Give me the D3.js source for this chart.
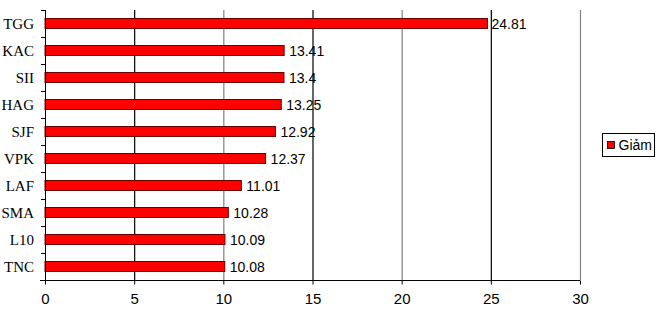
<!DOCTYPE html>
<html>
<head>
<meta charset="utf-8">
<script src="https://cdn.jsdelivr.net/npm/d3@7"></script>
<style>
  body { margin: 0; background: #fff; }
  svg { display: block; }
</style>
</head>
<body>
<svg id="chart" width="660" height="313"></svg>
<script>
const categories = ["TGG", "KAC", "SII", "HAG", "SJF", "VPK", "LAF", "SMA", "L10", "TNC"];
const values = [24.81, 13.41, 13.4, 13.25, 12.92, 12.37, 11.01, 10.28, 10.09, 10.08];
const xTicks = [0, 5, 10, 15, 20, 25, 30];
const seriesName = "Giảm";

const svg = d3.select("#chart");
const margin = { top: 10, right: 80, bottom: 33, left: 45 };
const width = 660, height = 313;

const x = d3.scaleLinear().domain([0, 30]).range([margin.left, width - margin.right]);
const y = d3.scaleBand().domain(categories)
    .range([margin.top, height - margin.bottom])
    .paddingInner(0.63).paddingOuter(0.315);

// vertical gridlines - alternate dark / gray like the original
svg.append("g").selectAll("line")
    .data(xTicks.filter(d => d > 0))
    .join("line")
    .attr("x1", d => x(d) + 0.5).attr("x2", d => x(d) + 0.5)
    .attr("y1", margin.top).attr("y2", height - margin.bottom)
    .attr("stroke", (d, i) => i % 2 === 0 ? "#000" : "#808080")
    .attr("stroke-width", 1.2);

// bars
svg.append("g").selectAll("rect")
    .data(values)
    .join("rect")
    .attr("x", x(0))
    .attr("y", (d, i) => y(categories[i]))
    .attr("width", d => x(d) - x(0))
    .attr("height", y.bandwidth())
    .attr("fill", "#ff0000")
    .attr("stroke", "#6b0000")
    .attr("stroke-width", 1);

// value labels
svg.append("g").selectAll("text")
    .data(values)
    .join("text")
    .attr("x", d => x(d) + (d > 20 ? 4 : 5))
    .attr("y", (d, i) => y(categories[i]) + y.bandwidth() / 2)
    .attr("dy", "0.36em")
    .attr("font-family", "'Liberation Sans', Arial, sans-serif")
    .attr("font-size", 14)
    .attr("fill", "#000")
    .text(d => d);

// x axis
const xAxis = svg.append("g")
    .attr("transform", `translate(0,${height - margin.bottom + 0.5})`)
    .call(d3.axisBottom(x).tickValues(xTicks).tickSize(4).tickPadding(9));
xAxis.select(".domain").attr("d", `M${margin.left - 5},0H${x(30)}`).attr("stroke", "#000");
xAxis.selectAll("text")
    .attr("font-family", "'Liberation Sans', Arial, sans-serif")
    .attr("font-size", 15)
    .attr("fill", "#000");

// y axis: ticks between categories
const bounds = d3.range(categories.length + 1).map(i => margin.top + i * y.step());
const yAxis = svg.append("g");
yAxis.append("line")
    .attr("x1", margin.left + 0.5).attr("x2", margin.left + 0.5)
    .attr("y1", margin.top).attr("y2", height - margin.bottom + 4)
    .attr("stroke", "#000");
yAxis.selectAll(".bt")
    .data(bounds)
    .join("line")
    .attr("class", "bt")
    .attr("x1", margin.left - 4).attr("x2", margin.left)
    .attr("y1", d => Math.round(d) + 0.5).attr("y2", d => Math.round(d) + 0.5)
    .attr("stroke", "#000");
yAxis.selectAll("text")
    .data(categories)
    .join("text")
    .attr("x", margin.left - 11)
    .attr("y", d => y(d) + y.bandwidth() / 2)
    .attr("dy", "0.36em")
    .attr("text-anchor", "end")
    .attr("font-family", "'Liberation Serif', 'Times New Roman', serif")
    .attr("font-size", 15)
    .attr("fill", "#000")
    .text(d => d);

// legend
const legend = svg.append("g").attr("transform", "translate(602.5,133.5)");
legend.append("rect")
    .attr("width", 52).attr("height", 23)
    .attr("fill", "#fff").attr("stroke", "#000");
legend.append("rect")
    .attr("x", 5).attr("y", 8).attr("width", 7).attr("height", 7)
    .attr("fill", "#ff0000").attr("stroke", "#000").attr("stroke-width", 0.8);
legend.append("text")
    .attr("x", 16).attr("y", 16.5)
    .attr("font-family", "'Liberation Sans', Arial, sans-serif")
    .attr("font-size", 14)
    .attr("fill", "#000")
    .text(seriesName);
</script>
</body>
</html>
